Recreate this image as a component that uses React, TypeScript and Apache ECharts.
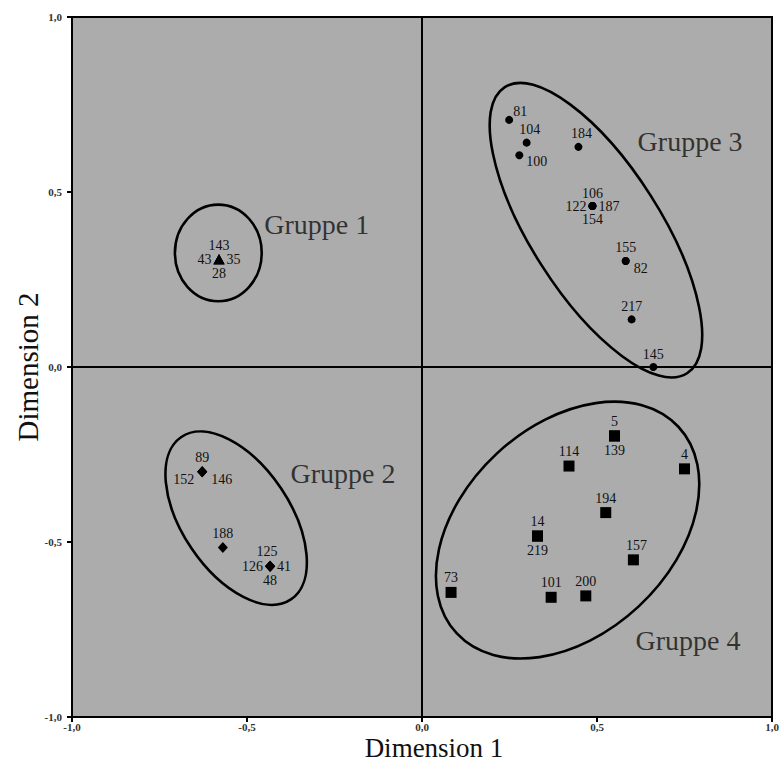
import React, { useEffect, useRef } from "react";
import * as echarts from "echarts";

// ---- data ----
// [x, y, label]
const gruppe1: [number, number, string][] = [
  [-0.58, 0.308, "143"],
  [-0.58, 0.308, "43"],
  [-0.58, 0.308, "35"],
  [-0.58, 0.308, "28"],
];
const gruppe2: [number, number, string][] = [
  [-0.628, -0.299, "89"],
  [-0.628, -0.299, "152"],
  [-0.628, -0.299, "146"],
  [-0.569, -0.516, "188"],
  [-0.434, -0.569, "125"],
  [-0.434, -0.569, "126"],
  [-0.434, -0.569, "41"],
  [-0.434, -0.569, "48"],
];
const gruppe3: [number, number, string][] = [
  [0.249, 0.706, "81"],
  [0.299, 0.641, "104"],
  [0.278, 0.605, "100"],
  [0.447, 0.629, "184"],
  [0.487, 0.46, "106"],
  [0.487, 0.46, "122"],
  [0.487, 0.46, "187"],
  [0.487, 0.46, "154"],
  [0.582, 0.303, "155"],
  [0.582, 0.303, "82"],
  [0.599, 0.136, "217"],
  [0.661, 0.0, "145"],
];
const gruppe4: [number, number, string][] = [
  [0.55, -0.197, "5"],
  [0.55, -0.197, "139"],
  [0.42, -0.283, "114"],
  [0.75, -0.291, "4"],
  [0.525, -0.416, "194"],
  [0.33, -0.483, "14"],
  [0.33, -0.483, "219"],
  [0.604, -0.551, "157"],
  [0.083, -0.644, "73"],
  [0.369, -0.658, "101"],
  [0.468, -0.654, "200"],
];
// ellipses: [cx, cy, semiMajor, semiMinor, tiltDeg]
const ellipses: [number, number, number, number, number][] = [
  [-0.582, 0.326, 0.124, 0.138, 0],
  [-0.531, -0.432, 0.28, 0.154, -56],
  [0.497, 0.391, 0.485, 0.185, -57.5],
  [0.416, -0.466, 0.433, 0.298, 43],
];
// group names: [x, y, name]
const gruppen: [number, number, string][] = [
  [-0.301, 0.406, "Gruppe 1"],
  [-0.226, -0.303, "Gruppe 2"],
  [0.766, 0.644, "Gruppe 3"],
  [0.76, -0.78, "Gruppe 4"],
];
const ticks = [-1, -0.5, 0, 0.5, 1];

// ---- label placement (style) ----
const placement: Record<string, { pos: string; off?: [number, number] }> = {
  "143": { pos: "top" }, "43": { pos: "left" }, "35": { pos: "right" }, "28": { pos: "bottom" },
  "89": { pos: "top" }, "152": { pos: "left", off: [-1, 8] }, "146": { pos: "right", off: [2, 8] },
  "188": { pos: "top" }, "125": { pos: "top", off: [-3, 0] }, "126": { pos: "left" }, "41": { pos: "right" }, "48": { pos: "bottom" },
  "81": { pos: "right", off: [-2, -8] }, "104": { pos: "top", off: [3, 0] }, "100": { pos: "right", off: [1, 6] },
  "184": { pos: "top", off: [3, 0] }, "106": { pos: "top" }, "122": { pos: "left" }, "187": { pos: "right" }, "154": { pos: "bottom" },
  "155": { pos: "top" }, "82": { pos: "right", off: [2, 8] }, "217": { pos: "top" }, "145": { pos: "top" },
  "5": { pos: "top" }, "139": { pos: "bottom" }, "114": { pos: "top" }, "4": { pos: "top" }, "194": { pos: "top" },
  "14": { pos: "top" }, "219": { pos: "bottom" }, "157": { pos: "top", off: [3, 0] }, "73": { pos: "top" },
  "101": { pos: "top" }, "200": { pos: "top" },
};

const SERIF = "'Liberation Serif', 'DejaVu Serif', serif";
const fmt = (v: number) => v.toFixed(1).replace(".", ",");

function pointSeries(data: [number, number, string][], symbol: string, size: any) {
  return {
    type: "scatter",
    symbol,
    symbolSize: size,
    itemStyle: { color: "#000", opacity: 1 },
    silent: true,
    data: data.map((d) => {
      const p = placement[d[2]] || { pos: "top" };
      return {
        value: [d[0], d[1]],
        name: d[2],
        label: {
          show: true,
          position: p.pos,
          offset: p.off || [0, 0],
          distance: 2,
          formatter: d[2],
          fontFamily: SERIF,
          fontSize: 14,
          color: "#111",
        },
      };
    }),
  };
}

export default function App() {
  const ref = useRef<HTMLDivElement>(null);
  useEffect(() => {
    const chart = echarts.init(ref.current!, undefined, { renderer: "svg" });
    const axisCommon = {
      type: "value",
      min: -1,
      max: 1,
      interval: 0.5,
      splitLine: { show: false },
      axisLine: { show: true, onZero: false, lineStyle: { color: "#000", width: 2 } },
      axisTick: { show: true, length: 5, lineStyle: { color: "#000", width: 2 } },
      nameLocation: "middle",
      nameMoveOverlap: false,
    };
    const tickLabel = {
      formatter: (v: number) => (ticks.includes(v) ? fmt(v) : ""),
      fontFamily: SERIF,
      fontSize: 11,
      lineHeight: 11,
      fontWeight: "bold",
      color: "#333",
    };
    chart.setOption({
      animation: false,
      backgroundColor: "#fff",
      grid: {
        left: 72,
        top: 17,
        width: 700,
        height: 700,
        containLabel: false,
        outerBoundsMode: "none",
        show: true,
        backgroundColor: "#acacac",
        borderColor: "#000",
        borderWidth: 2,
      },
      xAxis: {
        ...axisCommon,
        name: "Dimension 1",
        nameGap: 17,
        nameTextStyle: {
          fontFamily: SERIF,
          fontSize: 27,
          lineHeight: 27,
          color: "#111",
          padding: [0, 0, 0, 24],
        },
        axisLabel: { ...tickLabel, margin: 4 },
      },
      yAxis: {
        ...axisCommon,
        name: "Dimension 2",
        nameGap: 30,
        nameTextStyle: { fontFamily: SERIF, fontSize: 29, color: "#111" },
        axisLabel: { ...tickLabel, margin: 10 },
      },
      series: [
        {
          type: "custom",
          silent: true,
          clip: false,
          data: ellipses,
          renderItem: (_p: any, api: any) => {
            const c = api.coord([api.value(0), api.value(1)]);
            const s = api.size([api.value(2), api.value(3)]);
            return {
              type: "ellipse",
              x: c[0],
              y: c[1],
              rotation: (api.value(4) * Math.PI) / 180,
              shape: { cx: 0, cy: 0, rx: s[0], ry: s[1] },
              style: { fill: "none", stroke: "#000", lineWidth: 2.6 },
            };
          },
          markLine: {
            silent: true,
            symbol: "none",
            label: { show: false },
            lineStyle: { color: "#000", width: 2, type: "solid" },
            data: [{ xAxis: 0 }, { yAxis: 0 }],
          },
        },
        pointSeries(gruppe1, "triangle", [11, 10]),
        pointSeries(gruppe2, "diamond", [10, 11]),
        pointSeries(gruppe3, "circle", 8),
        pointSeries(gruppe4, "rect", 11),
        {
          type: "scatter",
          symbolSize: 0,
          silent: true,
          data: gruppen.map((g) => ({ value: [g[0], g[1]], name: g[2] })),
          label: {
            show: true,
            position: "inside",
            formatter: (p: any) => p.name,
            fontFamily: SERIF,
            fontSize: 28,
            color: "#111",
          },
        },
      ],
    });
    return () => chart.dispose();
  }, []);
  return (
    <div
      ref={ref}
      style={{ position: "absolute", left: 0, top: 0, width: 779, height: 761 }}
    />
  );
}
